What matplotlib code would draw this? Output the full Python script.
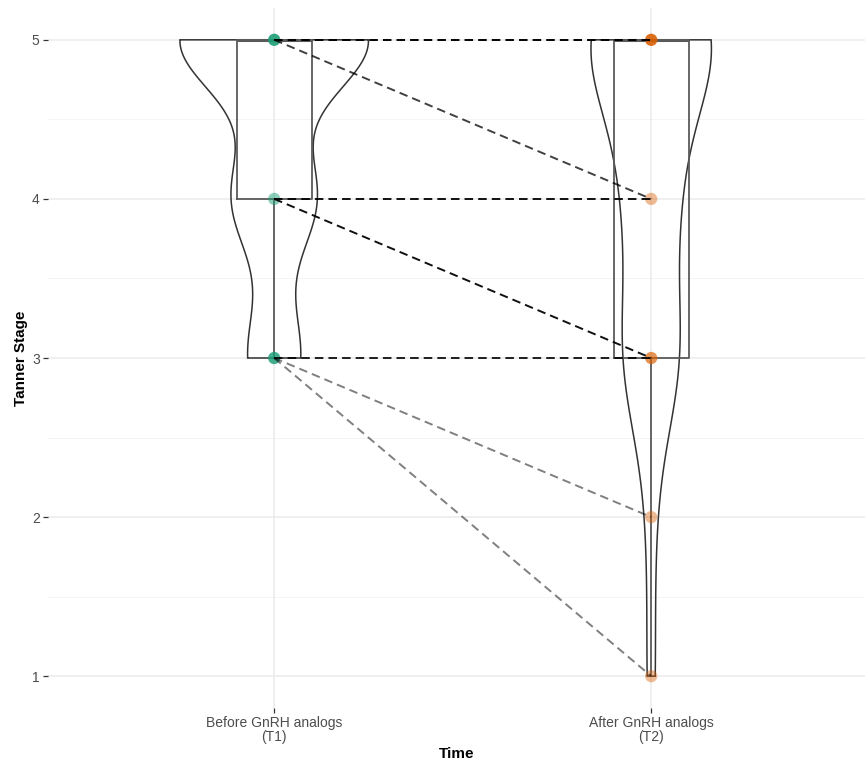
import numpy as np
import matplotlib
matplotlib.use("Agg")
import matplotlib.pyplot as plt
from matplotlib.patches import Polygon

plt.rcParams['font.family'] = ['Liberation Sans', 'DejaVu Sans']

# Paired Tanner stages: stage before treatment -> stage after treatment, with patient counts
before_stage = [5, 5, 4, 4, 3, 3, 3]
after_stage = [5, 4, 4, 3, 3, 2, 1]
n_patients = [16, 2, 4, 4, 3, 1, 1]

time_labels = ["Before GnRH analogs\n(T1)", "After GnRH analogs\n(T2)"]
y_ticks = [1, 2, 3, 4, 5]

group_colors = ["#1B9E77", "#D95F02"]
# marker opacity for each stage level drawn in each group
point_alpha = [
    {5: 0.9, 4: 0.5, 3: 0.82},
    {5: 0.9, 4: 0.42, 3: 0.68, 2: 0.42, 1: 0.42},
]

t1 = np.repeat(before_stage, n_patients).astype(float)
t2 = np.repeat(after_stage, n_patients).astype(float)
groups = [t1, t2]


def bw_nrd0(x):
    sd = np.std(x, ddof=1)
    q75, q25 = np.percentile(x, [75, 25])
    lo = min(sd, (q75 - q25) / 1.34)
    return 0.9 * lo * len(x) ** (-0.2)


def kde(x, grid):
    bw = bw_nrd0(x)
    z = (grid[:, None] - x[None, :]) / bw
    return np.exp(-0.5 * z ** 2).sum(axis=1) / (len(x) * bw * np.sqrt(2 * np.pi))


fig = plt.figure(figsize=(8.65, 7.61), dpi=100)
ax = fig.add_axes([48 / 865, 53 / 761, 817 / 865, 700 / 761])
ax.set_xlim(0.4, 0.4 + 817 / 377)
ax.set_ylim(0.8, 5.2)

# grid
for y in y_ticks:
    ax.axhline(y, color="#ebebeb", lw=1.1, zorder=0)
for y in np.arange(1.5, 5.0, 1.0):
    ax.axhline(y, color="#f4f4f4", lw=0.7, zorder=0)
for x in [1, 2]:
    ax.axvline(x, color="#ebebeb", lw=1.1, zorder=0)

# violins (area-scaled, trimmed to the data range)
grids, dens = [], []
for g in groups:
    grid = np.linspace(g.min(), g.max(), 512)
    grids.append(grid)
    dens.append(kde(g, grid))
dmax = max(d.max() for d in dens)
violin_width = 0.5
for i, (grid, d) in enumerate(zip(grids, dens)):
    c = i + 1
    hw = d / dmax * violin_width / 2
    xs = np.concatenate([c - hw, (c + hw)[::-1]])
    ys = np.concatenate([grid, grid[::-1]])
    ax.add_patch(Polygon(np.column_stack([xs, ys]), closed=True, fill=False,
                         edgecolor="#333333", lw=1.1, zorder=2))

# boxplots
ax.boxplot(groups, positions=[1, 2], widths=0.2, showfliers=False, showcaps=False,
           whis=1.5, manage_ticks=False,
           boxprops=dict(color="#5a5a5a", lw=1.3),
           whiskerprops=dict(color="#5a5a5a", lw=1.3),
           medianprops=dict(color="#5a5a5a", lw=2.2),
           zorder=3)

# points
for i, g in enumerate(groups):
    for lvl in np.unique(g):
        ax.scatter([i + 1], [lvl], s=78, color=group_colors[i],
                   alpha=point_alpha[i][int(lvl)], edgecolors="none", zorder=4)

# paired paths
for b, a, n in zip(before_stage, after_stage, n_patients):
    ax.plot([1, 2], [b, a], color="black", alpha=1 - 0.5 ** n, lw=1.4,
            dashes=(4.4, 2.6), zorder=5, solid_capstyle="butt")

ax.set_xticks([1, 2])
ax.set_xticklabels(time_labels, fontsize=10, color="#4d4d4d", linespacing=1.0)
ax.set_yticks(y_ticks)
ax.set_yticklabels([str(v) for v in y_ticks], fontsize=10, color="#4d4d4d")
ax.tick_params(axis="both", length=3.5, width=0.9, color="#333333", pad=2.5)
for s in ax.spines.values():
    s.set_visible(False)

ax.set_xlabel("Time", fontsize=11, fontweight="bold", labelpad=2)
ax.set_ylabel("Tanner Stage", fontsize=11, fontweight="bold", labelpad=3)

fig.savefig("out.png", dpi=100)
